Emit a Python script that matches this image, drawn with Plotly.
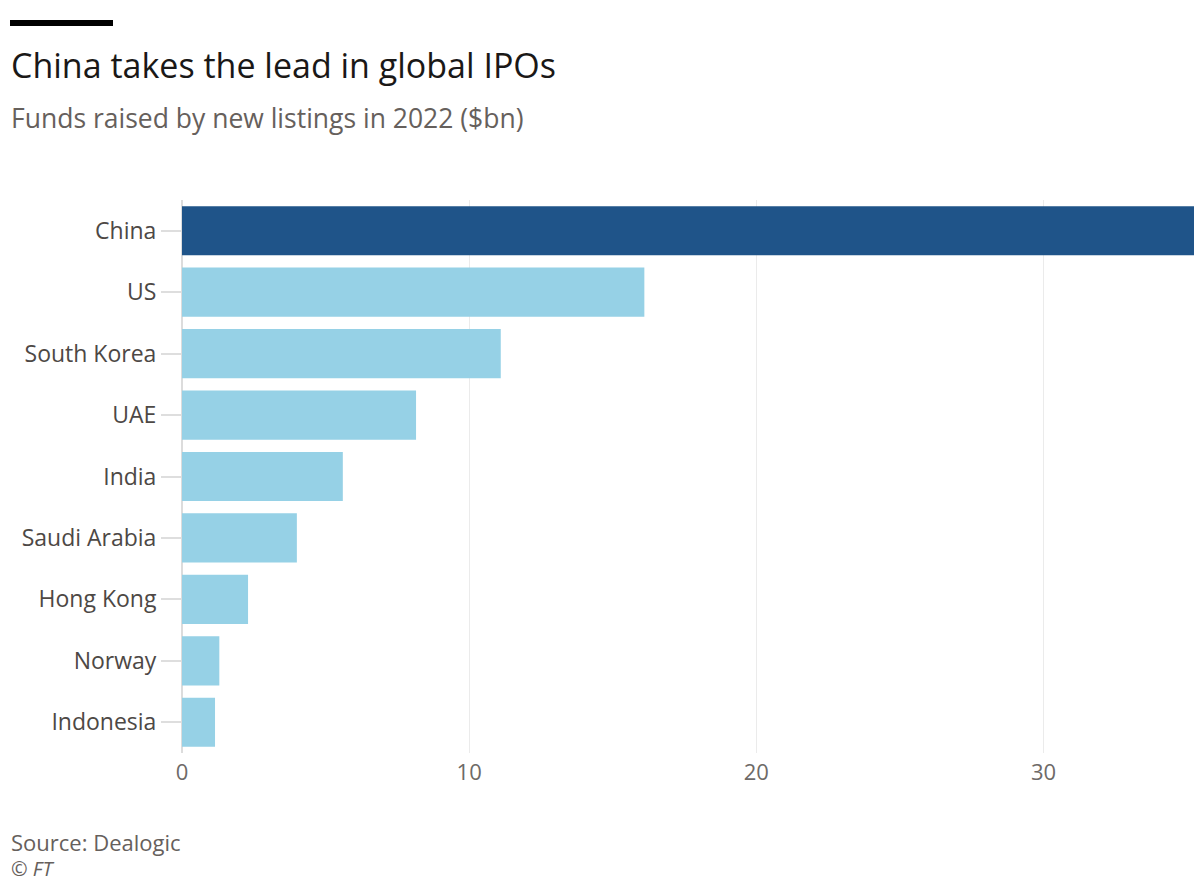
import plotly.graph_objects as go

countries = ["China", "US", "South Korea", "UAE", "India", "Saudi Arabia", "Hong Kong", "Norway", "Indonesia"]
funds_bn = [36.0, 16.1, 11.1, 8.15, 5.6, 4.0, 2.3, 1.3, 1.15]
bar_colors = ["#1f5489"] + ["#96d1e6"] * 8
x_ticks = [0, 10, 20, 30]

W, H = 1194, 883
L, R, T = 182, 0, 200
B = H - 753
pw, ph = W - L - R, H - T - B

def px(x):
    return (x - L) / pw

def py(y):
    return (H - B - y) / ph

fig = go.Figure(go.Bar(
    x=funds_bn, y=countries, orientation="h",
    marker=dict(color=bar_colors, line=dict(width=0)),
    hoverinfo="x+y",
))

font = "Open Sans, Lato, sans-serif"
fig.update_layout(
    width=W, height=H,
    margin=dict(l=L, r=R, t=T, b=B),
    paper_bgcolor="white", plot_bgcolor="white",
    bargap=0.2,
    showlegend=False,
    font=dict(family=font, color="#66605c"),
    xaxis=dict(
        range=[0, 35.24], tickvals=x_ticks, showgrid=True, gridcolor="#ebebeb", gridwidth=1.2,
        zeroline=True, zerolinecolor="#dcdcdc", zerolinewidth=1.5, showline=False,
        tickfont=dict(size=22, color="#6e6a67"), ticks="", ticklabelstandoff=4,
    ),
    yaxis=dict(
        categoryorder="array", categoryarray=countries[::-1], autorange=False, range=[-0.5, 8.5],
        showgrid=False, zeroline=False, showline=False,
        ticks="outside", ticklen=20, tickcolor="#dedede", tickwidth=1.5,
        tickfont=dict(size=23, color="#4d4845"),
    ),
)

fig.add_shape(type="rect", xref="paper", yref="paper",
              x0=px(10), x1=px(113), y0=py(26), y1=py(20),
              fillcolor="black", line=dict(width=0))

def note(text, ypix, size, color, italic=False):
    fig.add_annotation(text=f"<i>{text}</i>" if italic else text,
                       xref="paper", yref="paper", x=px(9), y=py(ypix),
                       xanchor="left", yanchor="middle", showarrow=False,
                       font=dict(family=font, size=size, color=color))

note("China takes the lead in global IPOs", 65, 34, "#1a1817")
note("Funds raised by new listings in 2022 ($bn)", 118, 26.5, "#66605c")
note("Source: Dealogic", 842, 22, "#66605c")
note("© FT", 868, 20, "#66605c", italic=True)

fig.write_html(
    "out.html",
    config={"displayModeBar": False},
    post_script="document.body.style.margin='0';document.body.style.overflow='hidden';",
)
